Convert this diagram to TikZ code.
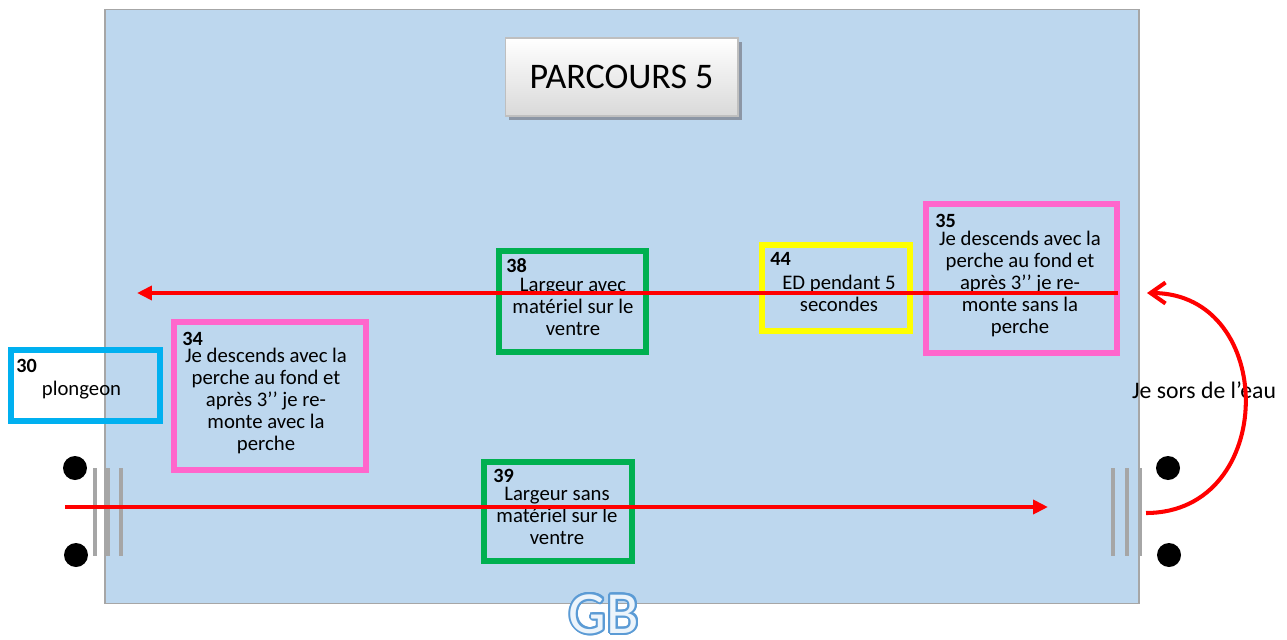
\documentclass[tikz,border=0pt]{standalone}
\usepackage{fontspec}
\setmainfont{Carlito}
\usepackage{tikz}
\usetikzlibrary{arrows.meta}
\usetikzlibrary{positioning, calc, shadows}
\definecolor{pool}{RGB}{189,215,238}
\definecolor{poolline}{RGB}{166,166,166}
\definecolor{cyanbox}{RGB}{0,176,240}
\definecolor{pinkbox}{RGB}{255,102,204}
\definecolor{greenbox}{RGB}{0,176,80}
\definecolor{yellowbox}{RGB}{255,255,0}
\definecolor{shade}{RGB}{140,150,165}
\definecolor{titleline}{RGB}{191,191,191}
\definecolor{titlelow}{RGB}{217,217,217}
\definecolor{gbline}{RGB}{91,155,213}
\definecolor{gbfill}{RGB}{236,244,251}

\tikzset{
    box/.style={draw=#1, line width=3.6pt, inner sep=0pt},
    num/.style={font=\bfseries\fontsize{11.5}{12}\selectfont, anchor=base west, inner sep=0pt},
    txt/.style={align=center, font=\fontsize{11.8}{12.5}\selectfont, inner sep=0pt},
    redarrow/.style={red, line width=2.6pt, -{Triangle[length=0.3cm, width=0.28cm]}},
    bar/.style={poolline, line width=2.3pt},
    gbtext/.style={font=\fontsize{34}{36}\selectfont, inner sep=0pt}
}

\begin{document}
\begin{tikzpicture}[x=0.02cm, y=-0.02cm]
    \useasboundingbox (0,0) rectangle (1287,639);
    
    % THE POOL
    \draw[poolline, fill=pool, line width=1.1pt] (105,9.5) rectangle (1139,603.5);
    
    \node[draw=titleline, line width=0.6pt, top color=white, bottom color=titlelow,
        drop shadow={shadow xshift=0.08cm, shadow yshift=-0.08cm, fill=shade, opacity=1},
        minimum width=4.66cm, minimum height=1.56cm,
        font=\fontsize{20.5}{22}\selectfont] (title) at (621.5,77) {PARCOURS 5};
    
    % LANE ENDS
    \foreach \x in {95, 107.5, 121, 1113, 1127, 1140}
        \draw[bar] (\x,468) -- (\x,556);
    \foreach \x/\y in {75/468, 76/555, 1168/468, 1169/555}
        \fill (\x,\y) circle (0.24cm);
    
    % THE STATIONS
    \foreach \x/\y/\w/\h/\c/\m in {
        85.5/385.5/149/71/cyanbox/30,
        270/396/192/148/pinkbox/34,
        572.5/301.5/147/101/greenbox/38,
        558/511.5/148/99/greenbox/39,
        836/288/148/86/yellowbox/44,
        1021.5/278.5/191/149/pinkbox/35}
        \node[box=\c, minimum width=\w*0.02cm, minimum height=\h*0.02cm] (b\m) at (\x,\y) {};
    
    \foreach \x/\y/\m in {
        16/372/30, 182/345/34, 506/272/38,
        493/482/39, 770/265/44, 935/227/35}
        \node[num] (n\m) at (\x,\y) {\m};
    
    \foreach \x/\y/\m/\t in {
        81.5/390/30/{plongeon},
        266/401/34/{Je descends avec la\\perche au fond et\\après 3’’ je re-\\monte avec la\\perche},
        573/307/38/{Largeur avec\\matériel sur le\\ventre},
        557/516/39/{Largeur sans\\matériel sur le\\ventre},
        839/293.5/44/{ED pendant 5\\secondes},
        1020/284/35/{Je descends avec la\\perche au fond et\\après 3’’ je re-\\monte sans la\\perche}}
        \node[txt] (t\m) at (\x,\y) {\t};
    
    % THE SWIM
    \coordinate (startB) at (65,507);
    \coordinate (endB) at (1048,507);
    \coordinate (startT) at (1118,293);
    \coordinate (endT) at (137,293);
    \coordinate (exitR) at (1146,513);
    \coordinate (backR) at (1147,293);
    \draw[redarrow] (startB) -- (endB);
    \draw[redarrow] (startT) -- (endT);
    
    \node[txt, font=\fontsize{13.5}{14}\selectfont] (sors) at (1204,390) {Je sors de l’eau};
    \draw[red, line width=2.3pt, -{Straight Barb[length=0.3cm, width=0.42cm]}]
        (exitR) .. controls (1278,513) and (1278,293) .. (backR);
    
    % GB
    \foreach \a in {0,20,...,340}
        \node[gbtext, text=gbline] (gb\a) at ($(604,614)+(\a:2)$) {GB};
    \node[gbtext, text=gbfill] (gb) at (604,614) {GB};
\end{tikzpicture}
\end{document}
